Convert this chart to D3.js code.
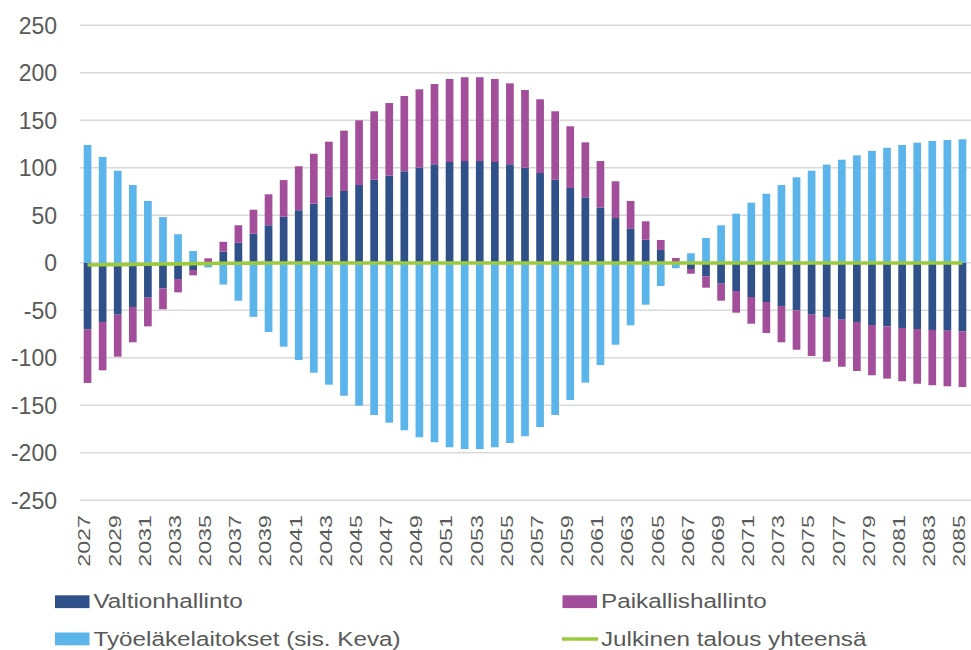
<!DOCTYPE html>
<html>
<head>
<meta charset="utf-8">
<script src="https://cdn.jsdelivr.net/npm/d3@7"></script>
<style>
  html, body { margin: 0; padding: 0; background: #ffffff; }
  svg { display: block; }
  text { font-family: "Liberation Sans", Arial, sans-serif; fill: #595959; }
</style>
</head>
<body>
<svg id="chart" width="971" height="650"></svg>
<script>
// Rahoitusaseman muutos sektoreittain, 2027–2085
const years = [
  2027, 2028, 2029, 2030, 2031, 2032, 2033, 2034, 2035, 2036,
  2037, 2038, 2039, 2040, 2041, 2042, 2043, 2044, 2045, 2046,
  2047, 2048, 2049, 2050, 2051, 2052, 2053, 2054, 2055, 2056,
  2057, 2058, 2059, 2060, 2061, 2062, 2063, 2064, 2065, 2066,
  2067, 2068, 2069, 2070, 2071, 2072, 2073, 2074, 2075, 2076,
  2077, 2078, 2079, 2080, 2081, 2082, 2083, 2084, 2085
];

const valtionhallinto = [
  -70, -62.4, -54.7, -46.6, -36.8, -27, -17.2, -7.7, 0.5, 11.6,
  21, 30.5, 39.4, 48.4, 55.2, 62.1, 69.5, 75.5, 81.8, 87.4,
  91.6, 96.2, 100, 103.6, 106, 107, 107, 106, 103.6, 100,
  94.4, 87.4, 78.6, 68.8, 57.9, 47, 35.6, 24.2, 13.4, 1.5,
  -6.6, -14.3, -22.1, -29.8, -36.1, -41.4, -45.6, -50.1, -54.7, -57.2,
  -60, -62.4, -65.6, -67, -68.7, -69.8, -70.8, -71.6, -72.2
];

const paikallishallinto = [
  -56.6, -50.9, -44.2, -37.2, -30.2, -22, -14, -5.6, 4.1, 10.4,
  18.4, 25.3, 32.6, 38.6, 46.3, 52.6, 57.9, 63.5, 68.1, 72,
  76.5, 79.3, 82.5, 84.5, 87.4, 88.2, 88.2, 87.4, 85.2, 81.8,
  77.6, 72, 65, 57.9, 49.1, 38.7, 29.4, 19.4, 10.5, 3.5,
  -5, -12, -17.9, -22.8, -28.1, -32.6, -38.2, -41.5, -43.5, -47,
  -49.5, -51.6, -52.9, -55, -56.1, -57.6, -58.2, -58.5, -58.6
];

const tyoelakelaitokset = [
  124, 111.3, 96.8, 81.8, 65, 48, 30, 12.3, -5, -23,
  -40, -57, -73, -88.4, -102.4, -115.8, -128.4, -140, -150.5, -160.3,
  -168.4, -176.4, -183.8, -189, -194.3, -196.1, -196.1, -194.3, -189.8, -182.7,
  -173, -160.3, -144.5, -126.3, -107.7, -86.3, -65.9, -44.2, -24.5, -5.8,
  9.9, 26, 39.4, 51.6, 63.2, 72.6, 81.8, 89.9, 96.8, 103.2,
  108.4, 113, 117.6, 121, 123.9, 126.3, 128.1, 129.2, 129.9
];

const julkinenTalous = [
  -2.5, -2.2, -2.0, -1.8, -1.6, -1.4, -1.2, -1.0, -0.8, -0.6,
  -0.5, -0.4, -0.3, -0.3, -0.3, -0.3, -0.3, -0.3, -0.3, -0.3,
  -0.3, -0.3, -0.3, -0.3, -0.3, -0.3, -0.3, -0.3, -0.3, -0.3,
  -0.3, -0.3, -0.3, -0.3, -0.3, -0.3, -0.3, -0.3, -0.3, -0.3,
  -0.3, -0.3, -0.3, -0.3, -0.3, -0.3, -0.3, -0.3, -0.3, -0.3,
  -0.3, -0.3, -0.3, -0.3, -0.3, -0.3, -0.3, -0.3, -0.3
];

const yTicks = [250, 200, 150, 100, 50, 0, -50, -100, -150, -200, -250];

const seriesKeys = ["Valtionhallinto", "Paikallishallinto", "Työeläkelaitokset (sis. Keva)"];
const seriesColors = ["#2f5089", "#a34e9a", "#5bb4ea"];
const lineName = "Julkinen talous yhteensä";
const lineColor = "#9bcb3c";

const rows = years.map((y, i) => ({
  year: y,
  [seriesKeys[0]]: valtionhallinto[i],
  [seriesKeys[1]]: paikallishallinto[i],
  [seriesKeys[2]]: tyoelakelaitokset[i]
}));

const svg = d3.select("#chart");
const plot = { left: 80, right: 970, top: 25.2, bottom: 500.2 };

const x = d3.scaleBand()
  .domain(years)
  .range([plot.left, plot.right])
  .paddingInner(0.49)
  .paddingOuter(0.245);

const y = d3.scaleLinear()
  .domain([-250, 250])
  .range([plot.bottom, plot.top]);

// gridlines
svg.append("g")
  .selectAll("line")
  .data(yTicks)
  .join("line")
  .attr("x1", plot.left)
  .attr("x2", plot.right + 1)
  .attr("y1", d => y(d))
  .attr("y2", d => y(d))
  .attr("stroke", "#d9d9d9")
  .attr("stroke-width", 1.5);

// y axis labels
svg.append("g")
  .selectAll("text")
  .data(yTicks)
  .join("text")
  .attr("x", 57)
  .attr("y", d => y(d) + 8.3)
  .attr("text-anchor", "end")
  .style("font-size", "23px")
  .text(d => d);

// stacked bars, positives upward and negatives downward
const stack = d3.stack().keys(seriesKeys).offset(d3.stackOffsetDiverging);
const stacked = stack(rows);

svg.append("g")
  .selectAll("g")
  .data(stacked)
  .join("g")
  .attr("fill", (d, i) => seriesColors[i])
  .selectAll("rect")
  .data(d => d)
  .join("rect")
  .attr("x", d => x(d.data.year))
  .attr("width", x.bandwidth())
  .attr("y", d => y(Math.max(d[0], d[1])))
  .attr("height", d => Math.abs(y(d[0]) - y(d[1])));

// total line
const line = d3.line()
  .x((d, i) => x(years[i]) + x.bandwidth() / 2)
  .y(d => y(d));

svg.append("path")
  .datum(julkinenTalous)
  .attr("d", line)
  .attr("fill", "none")
  .attr("stroke", lineColor)
  .attr("stroke-width", 3.6);

// x axis labels, every other year, rotated
svg.append("g")
  .selectAll("text")
  .data(years.filter((d, i) => i % 2 === 0))
  .join("text")
  .attr("transform", d => `translate(${x(d) + x.bandwidth() / 2 + 2.8}, 515) rotate(-90) scale(1.42, 1)`)
  .attr("text-anchor", "end")
  .style("font-size", "16.4px")
  .text(d => d);

// legend
const legendItems = [
  { name: seriesKeys[0], color: seriesColors[0], type: "rect", x: 55, y: 608.3 },
  { name: seriesKeys[1], color: seriesColors[1], type: "rect", x: 562.5, y: 608.3 },
  { name: seriesKeys[2], color: seriesColors[2], type: "rect", x: 55, y: 645.5 },
  { name: lineName, color: lineColor, type: "line", x: 562.5, y: 645.5 }
];

const legend = svg.append("g")
  .selectAll("g")
  .data(legendItems)
  .join("g")
  .attr("transform", d => `translate(${d.x}, ${d.y})`);

legend.filter(d => d.type === "rect")
  .append("rect")
  .attr("x", 0)
  .attr("y", -13)
  .attr("width", 34.5)
  .attr("height", 12.8)
  .attr("fill", d => d.color);

legend.filter(d => d.type === "line")
  .append("line")
  .attr("x1", -0.5)
  .attr("x2", 35.5)
  .attr("y1", -6.5)
  .attr("y2", -6.5)
  .attr("stroke", d => d.color)
  .attr("stroke-width", 3.6);

legend.append("text")
  .attr("transform", "translate(38.5, 0) scale(1.155, 1)")
  .style("font-size", "21px")
  .text(d => d.name);
</script>
</body>
</html>
